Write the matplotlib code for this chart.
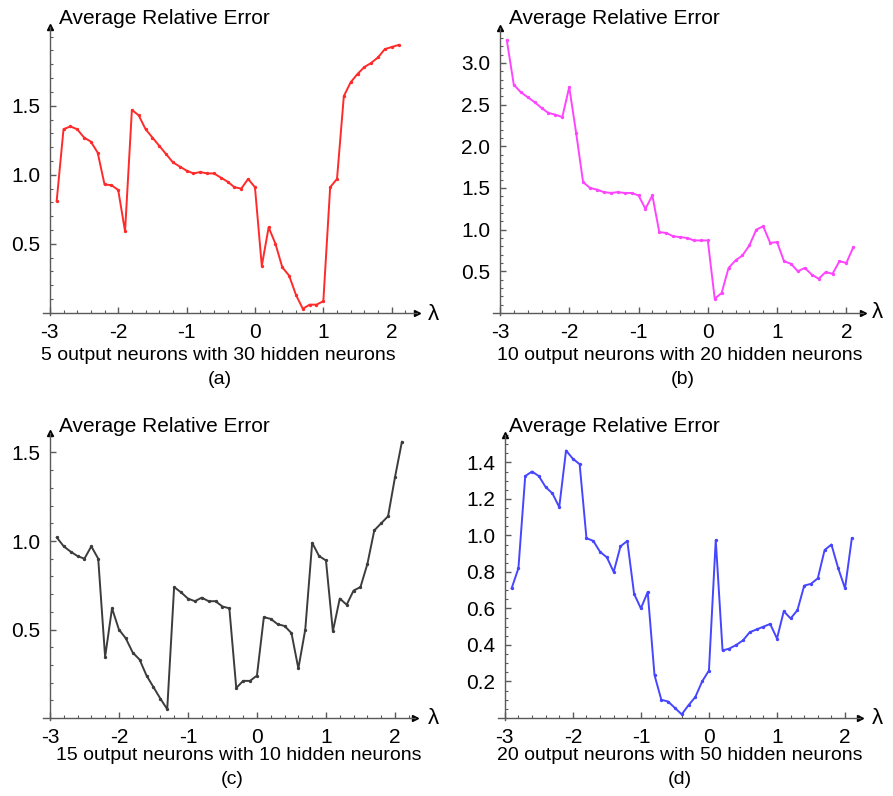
import matplotlib
matplotlib.use("Agg")
import matplotlib.pyplot as plt
from matplotlib import font_manager
from matplotlib.ticker import FixedLocator, MultipleLocator

plt.rcParams['font.family'] = ['Liberation Sans', 'DejaVu Sans']
plt.rcParams['axes.unicode_minus'] = False

# caption font: narrow face if it is there
names = set(f.name for f in font_manager.fontManager.ttflist)
if 'Liberation Sans Narrow' in names:
    cap_font = ['Liberation Sans Narrow', 'DejaVu Sans']
    cap_size = 16
else:
    cap_font = ['Liberation Sans', 'DejaVu Sans']
    cap_size = 14

# lambda values (same grid in all four panels)
lam = [-2.9, -2.8, -2.7, -2.6, -2.5, -2.4, -2.3, -2.2, -2.1, -2.0,
       -1.9, -1.8, -1.7, -1.6, -1.5, -1.4, -1.3, -1.2, -1.1, -1.0,
       -0.9, -0.8, -0.7, -0.6, -0.5, -0.4, -0.3, -0.2, -0.1, 0.0,
       0.1, 0.2, 0.3, 0.4, 0.5, 0.6, 0.7, 0.8, 0.9, 1.0,
       1.1, 1.2, 1.3, 1.4, 1.5, 1.6, 1.7, 1.8, 1.9, 2.0, 2.1]

err_a = [0.81, 1.33, 1.35, 1.33, 1.27, 1.24, 1.16, 0.93, 0.925, 0.89,
         0.59, 1.47, 1.43, 1.33, 1.27, 1.21, 1.15, 1.09, 1.06, 1.03,
         1.01, 1.02, 1.01, 1.01, 0.98, 0.95, 0.91, 0.90, 0.97, 0.91,
         0.34, 0.62, 0.50, 0.33, 0.27, 0.13, 0.03, 0.06, 0.06, 0.085,
         0.91, 0.97, 1.57, 1.67, 1.73, 1.78, 1.81, 1.85, 1.91, 1.925, 1.94]

err_b = [3.27, 2.74, 2.65, 2.59, 2.53, 2.46, 2.40, 2.38, 2.35, 2.71,
         2.16, 1.57, 1.50, 1.48, 1.45, 1.44, 1.45, 1.44, 1.44, 1.41,
         1.25, 1.41, 0.97, 0.96, 0.92, 0.91, 0.90, 0.87, 0.87, 0.87,
         0.17, 0.24, 0.54, 0.63, 0.69, 0.81, 1.00, 1.04, 0.84, 0.85,
         0.62, 0.59, 0.50, 0.54, 0.46, 0.41, 0.49, 0.47, 0.62, 0.60, 0.79]

err_c = [1.02, 0.97, 0.94, 0.915, 0.90, 0.97, 0.90, 0.345, 0.62, 0.50,
         0.45, 0.37, 0.33, 0.24, 0.175, 0.11, 0.05, 0.74, 0.71, 0.675,
         0.66, 0.68, 0.66, 0.66, 0.63, 0.62, 0.17, 0.21, 0.21, 0.24,
         0.57, 0.56, 0.53, 0.52, 0.48, 0.28, 0.50, 0.99, 0.915, 0.89,
         0.49, 0.675, 0.64, 0.72, 0.74, 0.87, 1.06, 1.10, 1.14, 1.36, 1.56]

err_d = [0.71, 0.82, 1.325, 1.35, 1.325, 1.265, 1.23, 1.155, 1.465, 1.42,
         1.39, 0.985, 0.97, 0.91, 0.88, 0.80, 0.94, 0.97, 0.68, 0.60,
         0.69, 0.235, 0.10, 0.09, 0.055, 0.02, 0.07, 0.115, 0.20, 0.26,
         0.975, 0.37, 0.38, 0.40, 0.425, 0.47, 0.485, 0.50, 0.515, 0.435,
         0.585, 0.545, 0.59, 0.725, 0.735, 0.765, 0.92, 0.95, 0.82, 0.71, 0.985]

x_ticks = [-3, -2, -1, 0, 1, 2]
captions = ["5 output neurons with 30 hidden neurons",
            "10 output neurons with 20 hidden neurons",
            "15 output neurons with 10 hidden neurons",
            "20 output neurons with 50 hidden neurons"]
letters = ["(a)", "(b)", "(c)", "(d)"]

W, H = 893, 796
fig = plt.figure(figsize=(W / 100, H / 100), dpi=100)

axis_col = '#5a5a5a'

# (pixel box: left, top, width, height), xlim, ylim, yticks, yminor, colour, data
panels = [
    ((43, 27, 374, 288), (-3.1, 2.37), (-0.015, 2.07), [0.5, 1.0, 1.5], 0.1, '#ff2a2a', err_a),
    ((493, 28, 370, 287), (-3.1, 2.24), (-0.025, 3.42), [0.5, 1.0, 1.5, 2.0, 2.5, 3.0], 0.1, '#ff44ff', err_b),
    ((43, 433, 372, 287), (-3.1, 2.29), (-0.011, 1.61), [0.5, 1.0, 1.5], 0.1, '#3c3c3c', err_c),
    ((498, 435, 362, 285), (-3.1, 2.22), (-0.011, 1.55), [0.2, 0.4, 0.6, 0.8, 1.0, 1.2, 1.4], 0.05, '#4646ff', err_d),
]
cap_pos = [(218, 355, 220, 379), (680, 355, 683, 379), (239, 755, 232, 779), (680, 755, 680, 779)]
ylab_pos = [(59, 18), (509, 18), (59, 427), (509, 427)]
lam_pos = [(433, 314), (877, 313), (433, 718), (877, 718)]

for i, (box, xl, yl, yt, ymin, col, err) in enumerate(panels):
    l, t, w, h = box
    ax = fig.add_axes([l / W, 1 - (t + h) / H, w / W, h / H])
    ax.set_xlim(*xl)
    ax.set_ylim(*yl)
    ax.patch.set_alpha(0)
    for s in ['top', 'right']:
        ax.spines[s].set_visible(False)
    ax.spines['left'].set_position(('data', -3))
    ax.spines['bottom'].set_position(('data', 0))
    for s in ['left', 'bottom']:
        ax.spines[s].set_color(axis_col)
        ax.spines[s].set_linewidth(1.0)

    ax.plot(lam, err, color=col, lw=1.4, marker='o', ms=1.4, mec=col, mfc=col)

    ax.xaxis.set_major_locator(FixedLocator(x_ticks))
    ax.xaxis.set_minor_locator(MultipleLocator(0.2))
    ax.yaxis.set_major_locator(FixedLocator(yt))
    ax.yaxis.set_minor_locator(MultipleLocator(ymin))
    ax.set_xticklabels([str(v) for v in x_ticks])
    ax.set_yticklabels(['%.1f' % v for v in yt])
    ax.tick_params(which='both', direction='in', colors=axis_col, labelcolor='black',
                   labelsize=15)
    ax.tick_params(which='major', length=4, width=1)
    ax.tick_params(which='minor', length=2, width=0.8)
    ax.tick_params(axis='x', pad=7)
    ax.tick_params(axis='y', pad=7)

    # arrow heads on the axes
    ax.plot(1, 0, '>', color='black', ms=4, transform=ax.get_yaxis_transform(), clip_on=False)
    ax.plot(-3, 1, '^', color='black', ms=4, transform=ax.get_xaxis_transform(), clip_on=False)

    cx, cy, lx, ly = cap_pos[i]
    fig.text(cx / W, 1 - cy / H, captions[i], ha='center', va='center',
             fontsize=cap_size, family=cap_font)
    fig.text(lx / W, 1 - ly / H, letters[i], ha='center', va='center',
             fontsize=cap_size, family=cap_font)
    yx, yy = ylab_pos[i]
    fig.text(yx / W, 1 - yy / H, "Average Relative Error", ha='left', va='center', fontsize=15)
    mx, my = lam_pos[i]
    fig.text(mx / W, 1 - my / H, "λ", ha='center', va='center', fontsize=16)

fig.savefig("out.png", dpi=100)
